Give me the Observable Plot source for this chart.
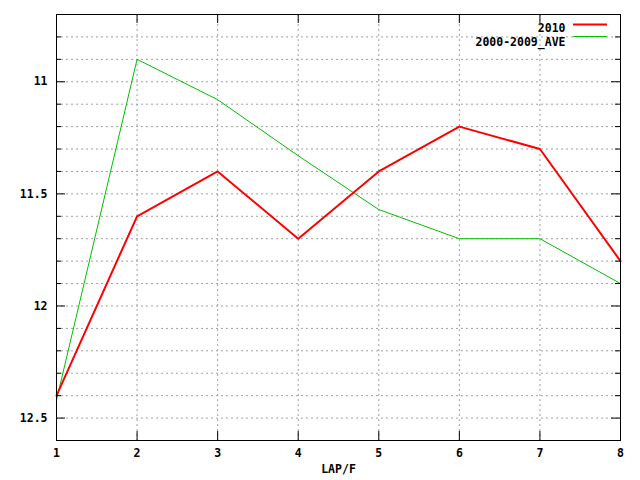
<!DOCTYPE html>
<html>
<head>
<meta charset="utf-8">
<script src="https://cdn.jsdelivr.net/npm/d3@7"></script>
<script src="https://cdn.jsdelivr.net/npm/@observablehq/plot@0.6"></script>
<style>
  html, body { margin: 0; padding: 0; background: white; }
</style>
</head>
<body>
<div id="chart"></div>
<script>
const laps = [1, 2, 3, 4, 5, 6, 7, 8];
const times2010 = [12.4, 11.6, 11.4, 11.7, 11.4, 11.2, 11.3, 11.8];
const timesAve = [12.42, 10.9, 11.08, 11.33, 11.57, 11.7, 11.7, 11.9];
const seriesNames = ["2010", "2000-2009_AVE"];
const seriesColors = ["#ff0000", "#00c000"];
const yDomain = [12.6, 10.7];
const yMajor = [11, 11.5, 12, 12.5];
const yMinor = [10.8, 10.9, 11.0, 11.1, 11.2, 11.3, 11.4, 11.5, 11.6, 11.7, 11.8, 11.9, 12.0, 12.1, 12.2, 12.3, 12.4, 12.5];
const xGrid = [2, 3, 4, 5, 6, 7];
const xLabel = "LAP/F";

const data2010 = laps.map((l, i) => ({lap: l, t: times2010[i]}));
const dataAve = laps.map((l, i) => ({lap: l, t: timesAve[i]}));

const W = 640, H = 480, ML = 56, MR = 20, MT = 14, MB = 40;
const PW = W - ML - MR, PH = H - MT - MB;
const grid = {stroke: "#a0a0a0", strokeDasharray: "2,3", strokeWidth: 1};
const yMinorOnly = yMinor.filter(v => !yMajor.some(m => Math.abs(m - v) < 1e-6));

const chart = Plot.plot({
  width: W, height: H,
  marginLeft: ML, marginRight: MR, marginTop: MT, marginBottom: MB,
  x: {domain: [1, 8]},
  y: {domain: yDomain},
  style: {fontFamily: "'DejaVu Sans Mono', monospace", fontWeight: "bold", fontSize: "11.5px", background: "white", color: "black"},
  marks: [
    Plot.ruleY(yMinor, grid),
    Plot.ruleX(xGrid, grid),
    Plot.line(dataAve, {x: "lap", y: "t", stroke: seriesColors[1], strokeWidth: 1}),
    Plot.line(data2010, {x: "lap", y: "t", stroke: seriesColors[0], strokeWidth: 2}),
    Plot.frame({stroke: "black"}),
    // inward tick marks
    Plot.ruleY(yMajor, {insetRight: PW - 9, stroke: "black"}),
    Plot.ruleY(yMajor, {insetLeft: PW - 9, stroke: "black"}),
    Plot.ruleY(yMinorOnly, {insetRight: PW - 5, stroke: "black"}),
    Plot.ruleY(yMinorOnly, {insetLeft: PW - 5, stroke: "black"}),
    Plot.ruleX(xGrid, {insetTop: PH - 9, stroke: "black"}),
    Plot.ruleX(xGrid, {insetBottom: PH - 9, stroke: "black"}),
    Plot.axisY(yMajor, {tickSize: 0, tickPadding: 9, label: null, tickFormat: d => String(d)}),
    Plot.axisX(laps, {tickSize: 0, tickPadding: 8, label: null, tickFormat: d => String(d)}),
    Plot.text([xLabel], {frameAnchor: "bottom", dy: 32, text: d => d}),
    // legend
    Plot.text([seriesNames[0]], {frameAnchor: "top-right", dx: -55, dy: 9, textAnchor: "end", text: d => d}),
    Plot.text([seriesNames[1]], {frameAnchor: "top-right", dx: -55, dy: 23, textAnchor: "end", text: d => d}),
    Plot.ruleY([yDomain[1]], {dy: 10, insetLeft: PW - 47, insetRight: 13, stroke: seriesColors[0], strokeWidth: 2}),
    Plot.ruleY([yDomain[1]], {dy: 22, insetLeft: PW - 47, insetRight: 13, stroke: seriesColors[1], strokeWidth: 1})
  ]
});
document.getElementById("chart").appendChild(chart);
</script>
</body>
</html>
